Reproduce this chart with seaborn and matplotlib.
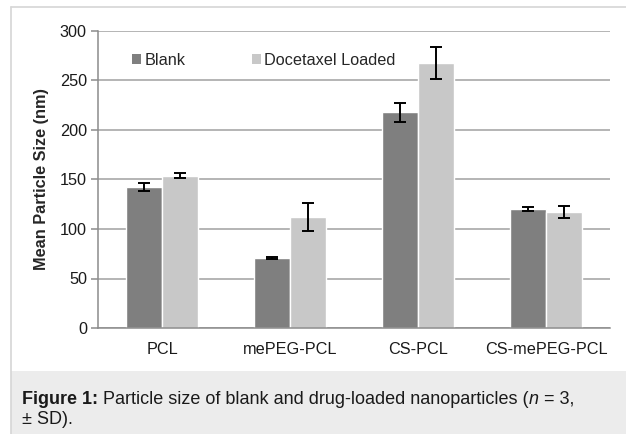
import matplotlib
matplotlib.use("Agg")
import matplotlib.pyplot as plt
import seaborn as sns
import pandas as pd
import numpy as np
from matplotlib.patches import Rectangle
from matplotlib.lines import Line2D

categories = ["PCL", "mePEG-PCL", "CS-PCL", "CS-mePEG-PCL"]
series = ["Blank", "Docetaxel Loaded"]
blank_mean = [142, 71, 218, 120]
blank_sd = [4, 1, 9.5, 2.3]
loaded_mean = [154, 112, 268, 117.5]
loaded_sd = [2.2, 14, 16, 6]
yticks = [0, 50, 100, 150, 200, 250, 300]

df = pd.DataFrame({
    "Polymer": categories * 2,
    "Group": [series[0]] * 4 + [series[1]] * 4,
    "Size": blank_mean + loaded_mean,
})
sds = [blank_sd, loaded_sd]

sns.set_theme(style="white")
plt.rcParams["font.family"] = ["Liberation Sans", "DejaVu Sans"]

W, H = 626, 434
fig = plt.figure(figsize=(W / 100, H / 100), dpi=100)
fig.patch.set_facecolor("white")

# page frame and caption box
fig.add_artist(Rectangle((10.5 / W, 0), 1, 63 / H, transform=fig.transFigure,
                         facecolor="#ececec", edgecolor="none", zorder=0))
fig.add_artist(Line2D([10.5 / W, 10.5 / W], [0, 1 - 7 / H], transform=fig.transFigure,
                      color="#d6d6d6", lw=1.2))
fig.add_artist(Line2D([10.5 / W, 1], [1 - 7 / H, 1 - 7 / H], transform=fig.transFigure,
                      color="#d6d6d6", lw=1.2))

ax = fig.add_axes([98 / W, (H - 328) / H, 512 / W, 297 / H])
palette = {series[0]: "#7f7f7f", series[1]: "#c8c8c8"}
sns.barplot(data=df, x="Polymer", y="Size", hue="Group", order=categories,
            hue_order=series, palette=palette, width=0.5625, errorbar=None,
            saturation=1, ax=ax, zorder=2)

for cont, sd in zip(ax.containers, sds):
    xs = [p.get_x() + p.get_width() / 2 for p in cont]
    hs = [p.get_height() for p in cont]
    ax.errorbar(xs, hs, yerr=sd, fmt="none", ecolor="black", elinewidth=1.4,
                capsize=4, capthick=1.4, zorder=3)

ax.set_ylim(0, 300)
ax.set_xlim(-0.5, 3.5)
ax.set_yticks(yticks)
ax.yaxis.grid(True, color="#a0a0a0", lw=1.1, zorder=0)
ax.set_axisbelow(True)
for s in ["top", "right"]:
    ax.spines[s].set_visible(False)
for s in ["left", "bottom"]:
    ax.spines[s].set_color("#8c8c8c")
    ax.spines[s].set_linewidth(1.1)

ax.set_xticks(range(len(categories)))
ax.set_xticklabels(categories, fontsize=11.7, color="#1a1a1a")
ax.tick_params(axis="x", length=0, pad=10)
ax.set_xticks([-0.5, 0.5, 1.5, 2.5, 3.5], minor=True)
ax.tick_params(axis="x", which="minor", length=5, color="#8c8c8c", width=1.1, direction="out")
ax.tick_params(axis="y", labelsize=11.7, labelcolor="#1a1a1a", length=5, color="#8c8c8c",
               width=1.1, direction="out", left=True, pad=3)
ax.set_xlabel("")
ax.set_ylabel("Mean Particle Size (nm)", fontsize=11.7, fontweight="bold", labelpad=8)

handles = [Rectangle((0, 0), 1, 1, facecolor=palette[s], edgecolor="none") for s in series]
leg = ax.legend(handles, series, loc="center left", bbox_to_anchor=(0.054, 0.902), ncol=2,
                frameon=False, fontsize=11.7, handlelength=0.55, handleheight=0.55,
                handletextpad=0.2, columnspacing=4.1, borderaxespad=0)

# caption
fig.canvas.draw()
r = fig.canvas.get_renderer()
y1 = (H - 404) / H
x0 = 22 / W
parts = [("Figure 1:", "bold", "normal"),
         (" Particle size of blank and drug-loaded nanoparticles (", "normal", "normal"),
         ("n", "normal", "italic"),
         (" = 3,", "normal", "normal")]
x = x0
for txt, wt, st in parts:
    t = fig.text(x, y1, txt, fontsize=13, fontweight=wt, fontstyle=st,
                 color="#1a1a1a", ha="left", va="baseline")
    bb = t.get_window_extent(renderer=r)
    x += bb.width / W
fig.text(x0, (H - 424) / H, "± SD).", fontsize=13, color="#1a1a1a",
         ha="left", va="baseline")

fig.savefig("out.png", dpi=100)
